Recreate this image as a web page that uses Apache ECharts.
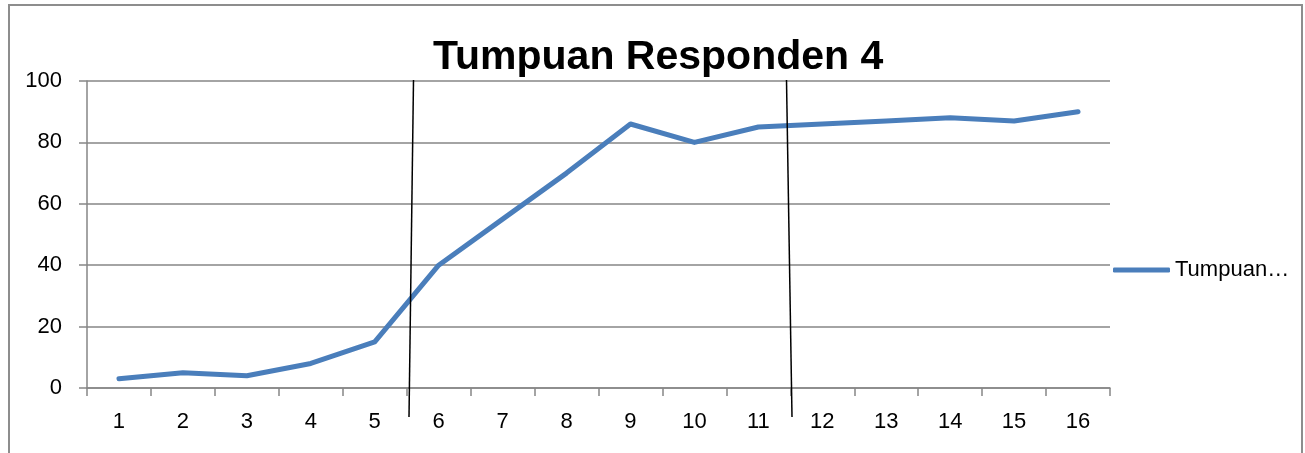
<!DOCTYPE html>
<html>
<head>
<meta charset="utf-8">
<script src="https://cdn.jsdelivr.net/npm/echarts@6/dist/echarts.min.js"></script>
<style>
  html, body { margin: 0; padding: 0; background: #fff; }
  #chart { width: 1305px; height: 453px; }
</style>
</head>
<body>
<div id="chart"></div>
<script>
var categories = ['1', '2', '3', '4', '5', '6', '7', '8', '9', '10', '11', '12', '13', '14', '15', '16'];
var values = [3, 5, 4, 8, 15, 40, 55, 70, 86, 80, 85, 86, 87, 88, 87, 90];
var seriesName = 'Tumpuan Responden 4';
var chartTitle = 'Tumpuan Responden 4';

var gray = '#868686';
var font = 'Liberation Sans';

var option = {
  animation: false,
  title: {
    text: chartTitle,
    left: 428,
    top: 32,
    textStyle: { fontFamily: font, fontSize: 41, fontWeight: 'bold', color: '#000' }
  },
  grid: { left: 87, right: 195, top: 81, bottom: 65 },
  legend: {
    left: 1113,
    top: 259,
    padding: 0,
    icon: 'roundRect',
    itemWidth: 57,
    itemHeight: 5,
    itemGap: 0,
    textStyle: {
      fontFamily: font, fontSize: 22, color: '#000',
      width: 118, overflow: 'truncate', ellipsis: '…'
    },
    data: [seriesName]
  },
  xAxis: {
    type: 'category',
    data: categories,
    boundaryGap: true,
    axisLine: { lineStyle: { color: gray, width: 1.5 } },
    axisTick: { show: true, length: 8, lineStyle: { color: gray, width: 1.5 } },
    axisLabel: { margin: 23, fontFamily: font, fontSize: 22, color: '#000' }
  },
  yAxis: {
    type: 'value',
    min: 0,
    max: 100,
    interval: 20,
    axisLine: { show: true, lineStyle: { color: gray, width: 1.5 } },
    axisTick: { show: true, length: 8, lineStyle: { color: gray, width: 1.5 } },
    splitLine: { lineStyle: { color: gray, width: 1.5 } },
    axisLabel: { margin: 25, fontFamily: font, fontSize: 22, color: '#000' }
  },
  series: [{
    name: seriesName,
    type: 'line',
    data: values,
    symbol: 'none',
    color: '#4a7ebb',
    lineStyle: { width: 5, color: '#4a7ebb', cap: 'round', join: 'round' }
  }],
  graphic: [
    { type: 'rect', shape: { x: 9, y: 5, width: 1293, height: 470 },
      style: { fill: 'none', stroke: '#8d8d8d', lineWidth: 2 }, z: 100 },
    { type: 'line', shape: { x1: 413.5, y1: 80, x2: 409, y2: 417 },
      style: { stroke: '#000', lineWidth: 1.5 }, z: 100 },
    { type: 'line', shape: { x1: 786.5, y1: 80, x2: 792, y2: 417 },
      style: { stroke: '#000', lineWidth: 1.5 }, z: 100 }
  ]
};

var chart = echarts.init(document.getElementById('chart'));
chart.setOption(option);
</script>
</body>
</html>
